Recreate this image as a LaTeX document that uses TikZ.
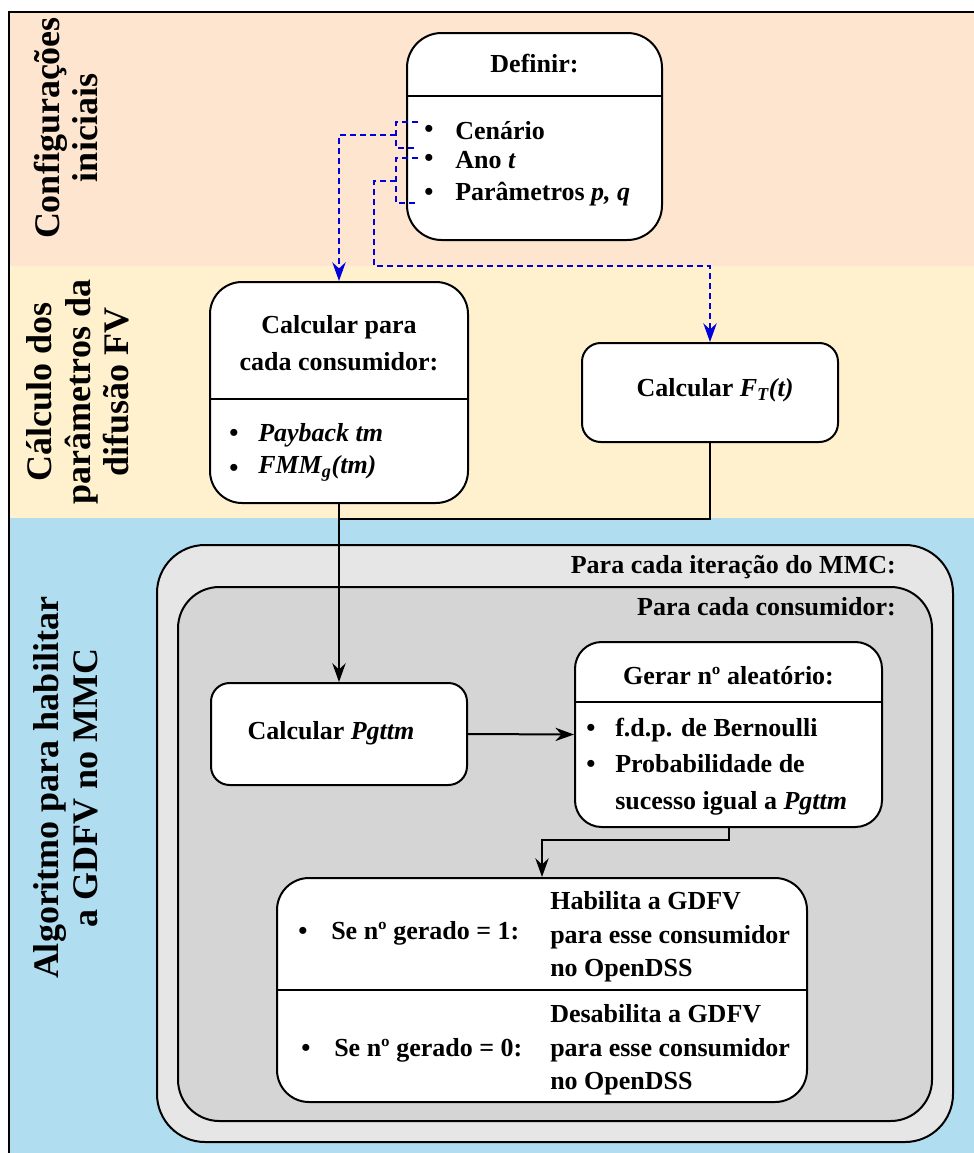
\documentclass[tikz,border=0pt]{standalone}
\usepackage{fontspec}
\setmainfont{Liberation Serif}[BoldFont={Liberation Serif Bold},ItalicFont={Liberation Serif Italic},BoldItalicFont={Liberation Serif Bold Italic}]
\newfontfamily\chartfont{Liberation Serif}[BoldFont={Liberation Serif Bold},ItalicFont={Liberation Serif Italic},BoldItalicFont={Liberation Serif Bold Italic}]
\usetikzlibrary{arrows.meta,calc}
\newdimen\pxu
\pxu=0.75pt
\definecolor{bandpeach}{HTML}{FDE5D0}
\definecolor{bandyellow}{HTML}{FFF1CE}
\definecolor{bandblue}{HTML}{B1DDF0}
\definecolor{loopouter}{HTML}{E6E6E6}
\definecolor{loopinner}{HTML}{D5D5D5}
\definecolor{linkblue}{HTML}{0000DD}
\begin{document}
\begin{tikzpicture}[x=0.75pt,y=-0.75pt,
  txt/.style={font=\chartfont\fontsize{19.5}{26}\selectfont\bfseries, inner sep=0pt},
  bandlabel/.style={font=\chartfont\fontsize{27}{29}\selectfont\bfseries, rotate=90, align=center, inner sep=0pt},
  card/.style={draw=black, line width=1.5pt, fill=white, rectangle, inner sep=0pt},
  loopbox/.style={draw=black, line width=1.5pt, rectangle, inner sep=0pt},
  flow/.style={draw=black, line width=1.5pt, -{Stealth[length=14pt,width=10pt]}},
  flowline/.style={draw=black, line width=1.5pt},
  link/.style={draw=linkblue, line width=1.5pt, dash pattern=on 4.5pt off 3pt},
  linktip/.style={link, -{Stealth[length=14pt,width=10pt]}},
  divider/.style={draw=black, line width=1.5pt}
]
\useasboundingbox (0,0) rectangle (974,1153);

% swimlane bands and frame
\fill[bandpeach] (9,12) rectangle (980,266);
\fill[bandyellow] (9,266) rectangle (980,518);
\fill[bandblue] (9,518) rectangle (980,1160);
\draw[line width=1.5pt] (9,1160) -- (9,12) -- (980,12);

% band titles
\node[bandlabel] (lane1) at (66,128) {Configurações\\iniciais};
\node[bandlabel] (lane2) at (78,392) {Cálculo dos\\parâmetros da\\difusão FV};
\node[bandlabel] (lane3) at (66,788) {Algoritmo para habilitar\\a GDFV no MMC};

% Monte Carlo loop containers
\node[loopbox, fill=loopouter, rounded corners=36pt, minimum width=796\pxu, minimum height=597\pxu] (mmc) at (555,843.5) {};
\node[loopbox, fill=loopinner, rounded corners=31pt, minimum width=754\pxu, minimum height=534\pxu] (cons) at (555,854) {};
\node[txt, anchor=east] (mmclabel) at (896,567) {Para cada iteração do MMC:};
\node[txt, anchor=east] (conslabel) at (896,607) {Para cada consumidor:};

% Definir
\node[card, rounded corners=26pt, minimum width=255\pxu, minimum height=207\pxu] (def) at (534.5,136.5) {};
\draw[divider] (407,96) -- (662,96);
\node[txt] (deftitle) at (534.5,64) {Definir:};
\node[txt] (defb1) at (429,131) {\textbullet};
\node[txt] (defb2) at (429,160) {\textbullet};
\node[txt] (defb3) at (429,194) {\textbullet};
\node[txt, anchor=west] (deft1) at (455,131) {Cenário};
\node[txt, anchor=west] (deft2) at (455,160) {Ano \textit{t}};
\node[txt, anchor=west] (deft3) at (455,194) {Parâmetros \textit{p, q}};

% Calcular para cada consumidor
\node[card, rounded corners=24pt, minimum width=258\pxu, minimum height=221\pxu] (calc) at (339,392.5) {};
\draw[divider] (210,399) -- (468,399);
\node[txt, align=center, font=\chartfont\fontsize{19.5}{27.5}\selectfont\bfseries] (calctitle) at (339,343) {Calcular para\\cada consumidor:};
\node[txt] (calcb1) at (234,435) {\textbullet};
\node[txt] (calcb2) at (234,470) {\textbullet};
\node[txt, anchor=west] (calct1) at (258,435) {\textit{Payback tm}};
\node[txt, anchor=west] (calct2) at (258,468) {\textit{FMM\textsubscript{g}(tm)}};

% Calcular F_T(t)
\node[card, rounded corners=14pt, minimum width=256\pxu, minimum height=99\pxu] (ft) at (710,392.5) {};
\node[txt] (fttext) at (715,390) {Calcular \textit{F\textsubscript{T}(t)}};

% Calcular Pgttm
\node[card, rounded corners=14pt, minimum width=256\pxu, minimum height=102\pxu] (pg) at (339,734) {};
\node[txt] (pgtext) at (331,733) {Calcular \textit{Pgttm}};

% Gerar numero aleatorio
\node[card, rounded corners=20pt, minimum width=307\pxu, minimum height=185\pxu] (gen) at (728.5,734.5) {};
\draw[divider] (575,702) -- (882,702);
\node[txt] (gentitle) at (728.5,676) {Gerar nº aleatório:};
\node[txt] (genb1) at (591,730) {\textbullet};
\node[txt] (genb2) at (591,766) {\textbullet};
\node[txt, anchor=west] (gent1) at (615,730) {f.d.p. de Bernoulli};
\node[txt, anchor=north west, align=left, font=\chartfont\fontsize{19.5}{28}\selectfont\bfseries] (gent2) at (615,754) {Probabilidade de\\sucesso igual a \textit{Pgttm}};

% Habilita / Desabilita
\node[card, rounded corners=24pt, minimum width=530\pxu, minimum height=224\pxu] (se) at (542,990) {};
\draw[divider] (277,990) -- (807,990);
\node[txt] (seb1) at (303,933) {\textbullet};
\node[txt, anchor=west] (set1) at (331,933) {Se nº gerado = 1:};
\node[txt, anchor=west, align=left, font=\chartfont\fontsize{19.5}{25}\selectfont\bfseries] (ser1) at (550,937) {Habilita a GDFV\\para esse consumidor\\no OpenDSS};
\node[txt] (seb2) at (306,1050) {\textbullet};
\node[txt, anchor=west] (set2) at (334,1050) {Se nº gerado = 0:};
\node[txt, anchor=west, align=left, font=\chartfont\fontsize{19.5}{25}\selectfont\bfseries] (ser2) at (550,1050) {Desabilita a GDFV\\para esse consumidor\\no OpenDSS};

% dashed links from the definitions
\coordinate (l1a) at (418,122);
\coordinate (l1b) at (418,148);
\coordinate (l1m) at (396,135);
\coordinate (l2a) at (418,158);
\coordinate (l2b) at (418,203);
\coordinate (l2m) at (396,181);
\draw[link] (l1a) -- (396,122) -- (396,148) -- (l1b);
\draw[linktip] (l1m) -| (calc.north);
\draw[link] (l2a) -- (396,158) -- (396,203) -- (l2b);
\draw[linktip] (l2m) -- (374,181) -- (374,266) -| (ft.north);

% solid flow
\draw[flowline] (ft.south) -- (710,519) -- (339,519);
\draw[flow] (calc.south) -- (pg.north);
\draw[flow] (pg.east) -- (gen.west);
\draw[flow] (gen.south) -- (728.5,840) -| (se.north);
\end{tikzpicture}
\end{document}
